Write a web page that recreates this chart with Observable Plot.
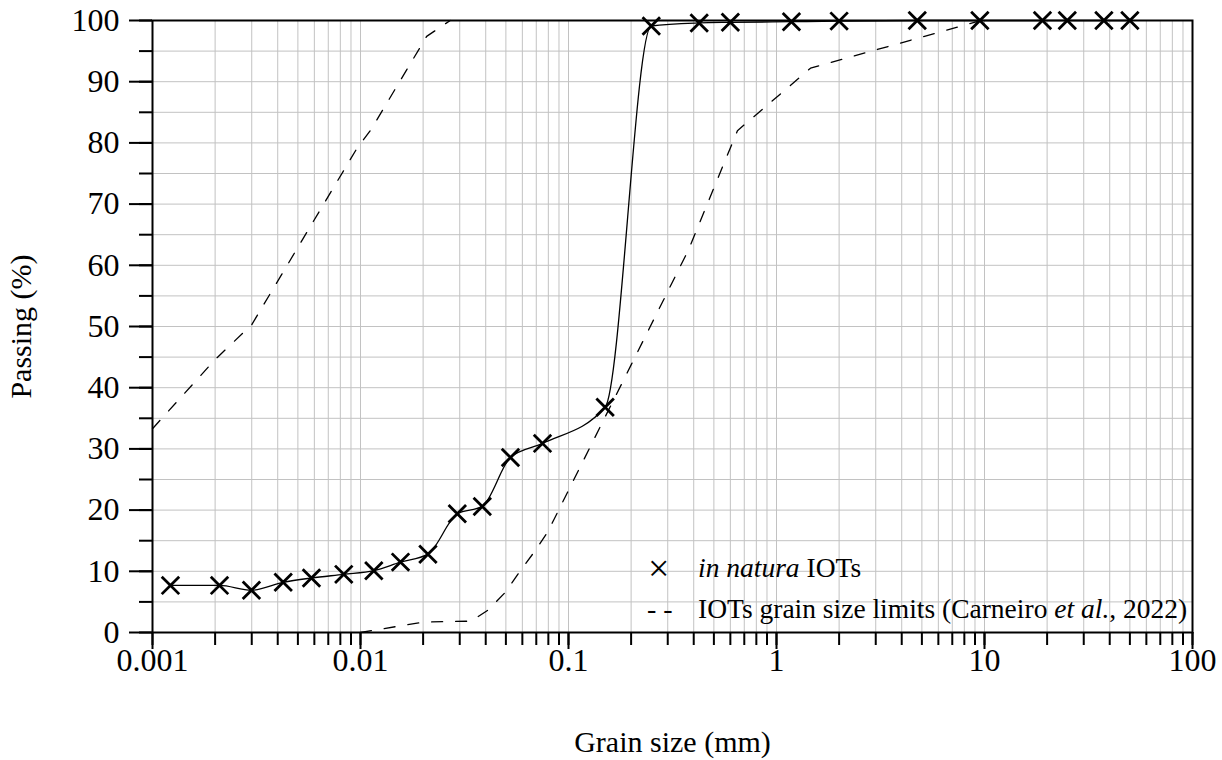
<!DOCTYPE html>
<html><head><meta charset="utf-8">
<script src="https://cdn.jsdelivr.net/npm/d3@7"></script>
<script src="https://cdn.jsdelivr.net/npm/@observablehq/plot@0.6"></script>
<style>
body{margin:0;background:#fff;}
#wrap{position:relative;width:1222px;height:760px;font-family:"Liberation Serif","Times New Roman",serif;color:#000;}
.lg{position:absolute;font-size:27.5px;line-height:30px;white-space:nowrap;}
.sym{position:absolute;white-space:nowrap;}
</style></head><body><div id="wrap"></div>
<script>
// in natura IOTs grain size distribution
const sampleSize = [0.00122, 0.0021, 0.00299, 0.00425, 0.00581, 0.00831, 0.01159, 0.01557, 0.0211, 0.0292, 0.0385, 0.0526, 0.075, 0.15, 0.25, 0.425, 0.6, 1.18, 2.0, 4.75, 9.5, 19, 25, 37.5, 50];
const samplePassing = [7.7, 7.7, 6.9, 8.2, 8.9, 9.5, 10.1, 11.5, 12.8, 19.4, 20.6, 28.6, 30.9, 36.8, 99.1, 99.6, 99.7, 99.8, 99.9, 100, 100, 100, 100, 100, 100];
// IOTs grain size limits (Carneiro et al., 2022)
const upperSize = [0.001, 0.002, 0.003, 0.00957, 0.0112, 0.0208, 0.027];
const upperPassing = [33.3, 44.6, 50.3, 79.0, 82.1, 97.4, 100];
const lowerSize = [0.01, 0.02, 0.034, 0.0412, 0.0498, 0.0581, 0.0679, 0.0794, 0.376, 0.649, 1.457, 9.6];
const lowerPassing = [0, 1.7, 1.85, 3.7, 6.6, 9.9, 13.0, 16.4, 62.4, 82.0, 92.2, 100];
// ticks
const xMajorTicks = [0.001, 0.01, 0.1, 1, 10, 100];
const xTickLabels = ["0.001", "0.01", "0.1", "1", "10", "100"];
const yMajorTicks = [0, 10, 20, 30, 40, 50, 60, 70, 80, 90, 100];
const yMinorTicks = [0, 5, 10, 15, 20, 25, 30, 35, 40, 45, 50, 55, 60, 65, 70, 75, 80, 85, 90, 95, 100];
const xLabel = "Grain size (mm)";
const yLabel = "Passing (%)";

const xMinorTicks = [];
for (let e = -3; e < 2; e++) for (let k = 1; k <= 9; k++) xMinorTicks.push(+(k * Math.pow(10, e)).toPrecision(3));
xMinorTicks.push(100);

const sample = sampleSize.map((s, i) => ({size: s, passing: samplePassing[i]}));
const upper = upperSize.map((s, i) => ({size: s, passing: upperPassing[i]}));
const lower = lowerSize.map((s, i) => ({size: s, passing: lowerPassing[i]}));

const grid = {stroke: "#c2c2c2", strokeOpacity: 1, strokeWidth: 1};
const dashed = {x: "size", y: "passing", stroke: "#000", strokeWidth: 1.3, strokeDasharray: "11,13"};

const chart = Plot.plot({
  width: 1222, height: 760,
  marginLeft: 152, marginRight: 30, marginTop: 20, marginBottom: 128,
  style: {fontFamily: "'Liberation Serif', 'Times New Roman', serif", fontSize: "32px", background: "#fff", color: "#000", overflow: "visible"},
  x: {type: "log", domain: [0.001, 100]},
  y: {domain: [0, 100]},
  marks: [
    Plot.gridX(xMinorTicks, grid),
    Plot.gridY(yMinorTicks, grid),
    Plot.line(upper, dashed),
    Plot.line(lower, dashed),
    Plot.line(sample, {x: "size", y: "passing", curve: "monotone-x", stroke: "#000", strokeWidth: 1.3}),
    Plot.dot(sample, {x: "size", y: "passing", symbol: "times", r: 8, stroke: "#000", strokeWidth: 2.8}),
    Plot.axisX(xMinorTicks, {tickSize: 13, tickFormat: () => "", label: null, strokeWidth: 2}),
    Plot.axisX(xMajorTicks, {tickSize: 17, tickPadding: -1, strokeWidth: 2,
      tickFormat: d => xTickLabels[xMajorTicks.indexOf(d)], label: null}),
    Plot.axisX([], {label: xLabel, labelAnchor: "center", labelOffset: 119, labelArrow: false, fontSize: 30, tickSize: 0}),
    Plot.axisY(yMinorTicks, {tickSize: 13, tickFormat: () => "", label: null, strokeWidth: 2}),
    Plot.axisY(yMajorTicks, {tickSize: 23, tickPadding: 10, strokeWidth: 2, label: null}),
    Plot.axisY([], {label: yLabel, labelAnchor: "center", labelOffset: 143, labelArrow: false, fontSize: 30, tickSize: 0}),
    Plot.frame({stroke: "#000", strokeWidth: 2})
  ]
});
const wrap = document.getElementById("wrap");
wrap.appendChild(chart);

const legendItems = [
  {sym: "×", html: "<i>in natura</i> IOTs"},
  {sym: "- -", html: "IOTs grain size limits (Carneiro <i>et al.</i>, 2022)"}
];
legendItems.forEach((it, i) => {
  const s = document.createElement("div");
  s.className = "sym";
  if (i === 0) { s.style.left = "648px"; s.style.top = "548px"; s.style.fontSize = "38px"; s.style.lineHeight = "40px"; }
  else { s.style.left = "647px"; s.style.top = "594px"; s.style.fontSize = "28px"; s.style.lineHeight = "30px"; }
  s.textContent = it.sym; wrap.appendChild(s);
  const t = document.createElement("div");
  t.className = "lg"; t.style.left = "698px"; t.style.top = (553 + i * 41) + "px";
  t.innerHTML = it.html; wrap.appendChild(t);
});
</script></body></html>
